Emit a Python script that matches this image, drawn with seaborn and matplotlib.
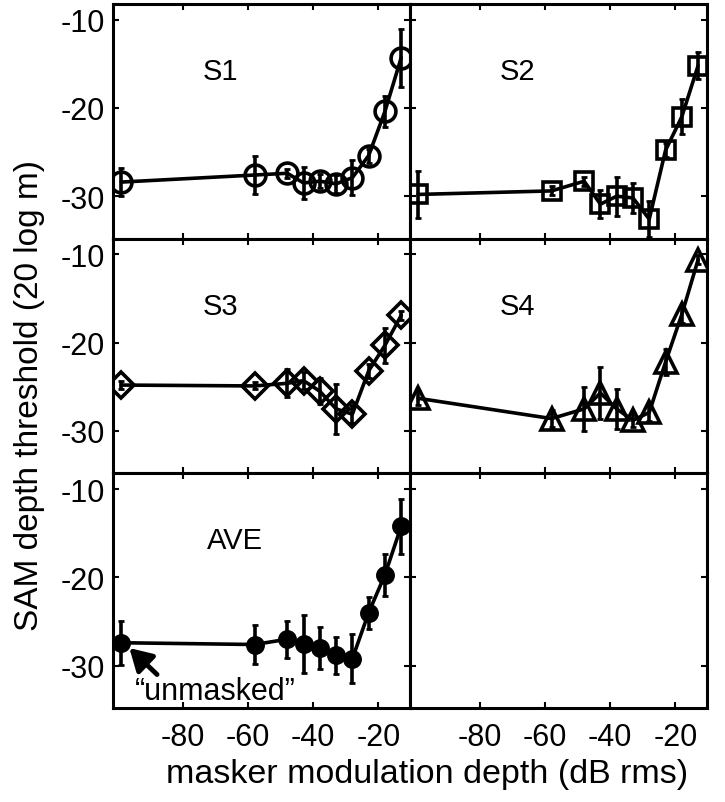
import numpy as np
import pandas as pd
import matplotlib
matplotlib.use("Agg")
import matplotlib.pyplot as plt
import seaborn as sns

# masker modulation depth (dB rms); first point is the "unmasked" condition
masker_db = [-99, -58, -48, -43, -38, -33, -28, -23, -18, -13]

s1 = [-28.4, -27.6, -27.4, -28.5, -28.3, -28.6, -27.9, -25.4, -20.4, -14.3]
s1_err = [1.6, 2.1, 0.5, 1.8, 0.8, 1.0, 2.0, 0.8, 1.8, 3.3]
s2 = [-29.8, -29.4, -28.3, -30.9, -30.0, -30.2, -32.6, -24.8, -21.0, -15.2]
s2_err = [2.7, 0.5, 0.5, 1.6, 2.2, 1.7, 2.0, 0.8, 2.0, 1.5]
s3 = [-24.8, -24.9, -24.6, -24.3, -25.5, -27.5, -28.1, -23.2, -20.3, -16.9]
s3_err = [0.5, 0.4, 1.6, 1.0, 1.5, 2.8, 1.0, 0.8, 2.0, 0.5]
s4 = [-26.3, -28.6, -27.5, -25.7, -27.5, -28.8, -27.9, -22.2, -16.8, -10.6]
s4_err = [0.8, 1.0, 2.5, 3.0, 2.3, 0.8, 1.0, 1.5, 1.0, 0.5]
ave = [-27.4, -27.6, -27.0, -27.5, -28.0, -28.8, -29.2, -24.0, -19.7, -14.2]
ave_err = [2.5, 2.2, 2.1, 3.3, 2.4, 2.1, 2.8, 1.8, 2.4, 3.1]

panel_names = ["S1", "S2", "S3", "S4", "AVE"]
panel_values = [s1, s2, s3, s4, ave]
panel_errors = [s1_err, s2_err, s3_err, s4_err, ave_err]
panel_markers = ["o", "s", "D", "^", "o"]
marker_sizes = [15, 13, 13, 16, 11]

x_ticks = [-80, -60, -40, -20]
y_ticks = [-10, -20, -30]

sns.set_theme(style="ticks")
plt.rcParams["font.family"] = ["Liberation Sans", "DejaVu Sans"]
plt.rcParams["axes.unicode_minus"] = False
plt.rcParams["text.color"] = "black"

fig, axes = plt.subplots(3, 2, figsize=(7.25, 8.03), dpi=100, sharex=True, sharey=True)
fig.subplots_adjust(left=0.156, right=0.975, top=0.994, bottom=0.117, wspace=0, hspace=0)

for i, ax in enumerate(axes.flat):
    if i < len(panel_names):
        df = pd.DataFrame({"x": masker_db, "y": panel_values[i]})
        filled = panel_names[i] == "AVE"
        sns.lineplot(data=df, x="x", y="y", ax=ax, color="black", lw=2.6,
                     marker=panel_markers[i], markersize=marker_sizes[i],
                     markerfacecolor="black" if filled else "none",
                     markeredgecolor="black", markeredgewidth=2.6)
        ax.errorbar(masker_db, panel_values[i], yerr=panel_errors[i], fmt="none",
                    ecolor="black", elinewidth=2.6, capsize=2.5, capthick=2)
        lx = -64 if filled else -68.5
        ax.text(lx, -15.8, panel_names[i], fontsize=21, ha="center", va="center",
                color="black")
    ax.set_xlim(-101.5, -10.3)
    ax.set_ylim(-34.8, -8.2)
    ax.set_xticks(x_ticks)
    ax.set_yticks(y_ticks)
    ax.set_xlabel("")
    ax.set_ylabel("")
    ax.tick_params(direction="in", length=4, width=1.5, top=True, right=True,
                   labelsize=22, colors="black")
    ax.tick_params(axis="x", pad=10)
    ax.tick_params(axis="y", pad=6)
    for sp in ax.spines.values():
        sp.set_linewidth(2.2)
        sp.set_color("black")

# "unmasked" arrow in the AVE panel
ax_ave = axes[2, 0]
ax_ave.annotate("", xy=(-96.5, -28.0), xytext=(-88.0, -31.0),
                arrowprops=dict(arrowstyle="-|>,head_length=0.6,head_width=0.35",
                                lw=3.5, color="black", mutation_scale=22,
                                shrinkA=0, shrinkB=0))
ax_ave.text(-70, -32.9, "\u201cunmasked\u201d", fontsize=22, ha="center", va="center",
            color="black")

fig.text(0.041, 0.508, "SAM depth threshold (20 log m)", rotation=90,
         fontsize=24, ha="center", va="center", color="black")
fig.text(0.589, 0.035, "masker modulation depth (dB rms)",
         fontsize=24.5, ha="center", va="center", color="black")

fig.savefig("out.png", dpi=100)
